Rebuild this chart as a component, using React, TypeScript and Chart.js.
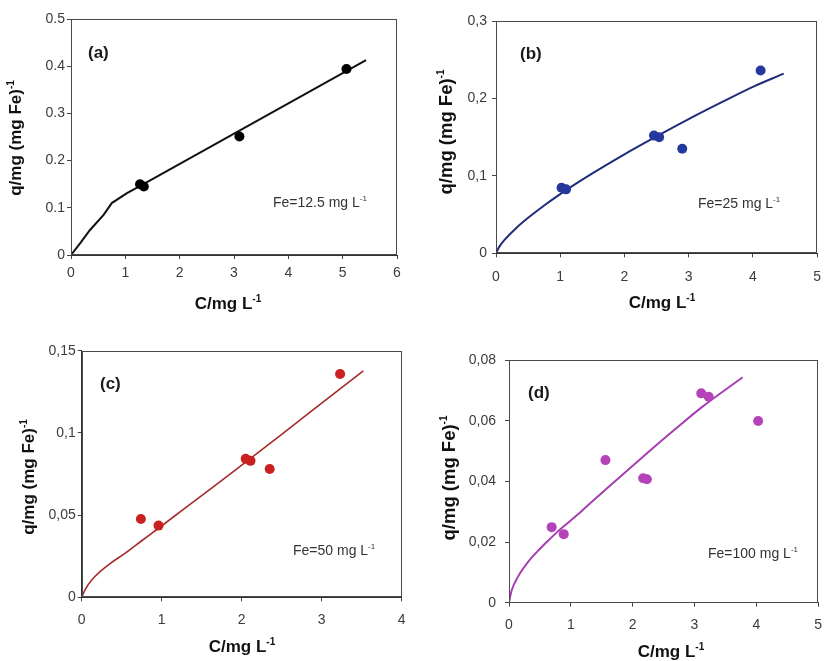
import React, { useEffect, useRef } from 'react';
import { Chart, registerables } from 'chart.js';

Chart.register(...registerables);

const FONT = '"Liberation Sans", Arial, Helvetica, sans-serif';

// ---------- Panel (a): Fe = 12.5 mg/L ----------
const A_C = [1.27, 1.34, 3.1, 5.07];
const A_Q = [0.15, 0.145, 0.251, 0.394];
const A_FIT_C = [0, 0.17, 0.35, 0.6, 0.75, 1.03, 1.3, 5.43];
const A_FIT_Q = [0, 0.025, 0.053, 0.085, 0.11, 0.131, 0.148, 0.413];
const A_X_TICKS = ['0', '1', '2', '3', '4', '5', '6'];
const A_Y_TICKS = ['0', '0.1', '0.2', '0.3', '0.4', '0.5'];

// ---------- Panel (b): Fe = 25 mg/L ----------
const B_C = [1.02, 1.09, 2.46, 2.54, 2.9, 4.12];
const B_Q = [0.0847, 0.0826, 0.152, 0.15, 0.135, 0.236];
const B_FIT_C = [0, 0.05, 0.15, 0.3, 0.5, 0.75, 1.0, 1.5, 2.0, 2.5, 3.0, 3.5, 4.0, 4.48];
const B_FIT_Q = [0, 0.0083, 0.0189, 0.0315, 0.0458, 0.0618, 0.0765, 0.1032, 0.1279, 0.151, 0.1733, 0.1945, 0.215, 0.232];
const B_X_TICKS = ['0', '1', '2', '3', '4', '5'];
const B_Y_TICKS = ['0', '0,1', '0,2', '0,3'];

// ---------- Panel (c): Fe = 50 mg/L ----------
const C_C = [0.74, 0.96, 2.05, 2.11, 2.35, 3.23];
const C_Q = [0.0476, 0.0436, 0.0843, 0.083, 0.078, 0.1358];
const C_FIT_C = [0, 0.04, 0.125, 0.33, 0.54, 0.75, 0.96, 1.5, 2.05, 2.5, 3.0, 3.52];
const C_FIT_Q = [0, 0.0044, 0.0105, 0.0196, 0.0267, 0.0344, 0.042, 0.0619, 0.0822, 0.0991, 0.1181, 0.1378];
const C_X_TICKS = ['0', '1', '2', '3', '4'];
const C_Y_TICKS = ['0', '0,05', '0,1', '0,15'];

// ---------- Panel (d): Fe = 100 mg/L ----------
const D_C = [0.69, 0.885, 1.56, 2.17, 2.23, 3.11, 3.23, 4.03];
const D_Q = [0.0249, 0.0226, 0.047, 0.041, 0.0407, 0.069, 0.0679, 0.0599];
const D_FIT_C = [0, 0.042, 0.146, 0.3, 0.46, 0.61, 0.77, 0.98, 1.19, 1.6, 2.2, 2.7, 3.11, 3.78];
const D_FIT_Q = [0, 0.004, 0.0086, 0.0132, 0.0169, 0.02, 0.0231, 0.0268, 0.0305, 0.038, 0.0487, 0.0574, 0.0643, 0.0743];
const D_X_TICKS = ['0', '1', '2', '3', '4', '5'];
const D_Y_TICKS = ['0', '0,02', '0,04', '0,06', '0,08'];

type Seg = { t: string; sup?: boolean };

interface PanelDef {
  left: number; top: number; width: number; height: number;
  plot: { l: number; t: number; r: number; b: number };
  xMax: number; xStep: number; yMax: number; yStep: number;
  xTicks: string[]; yTicks: string[];
  ptsC: number[]; ptsQ: number[]; fitC: number[]; fitQ: number[];
  color: string; lineColor: string; lineWidth: number; radius: number; tension: number;
  xTickPad: number; yTickPad: number;
  label: string; labelPos: [number, number];
  note: Seg[]; notePos: [number, number];
  xTitle: Seg[]; xTitlePos: [number, number]; xTitleSize: number;
  yTitle: Seg[]; yTitlePos: [number, number]; yTitleSize: number;
}

const X_TITLE: Seg[] = [{ t: 'C/mg L' }, { t: '-1', sup: true }];
const Y_TITLE: Seg[] = [{ t: 'q/mg (mg Fe)' }, { t: '-1', sup: true }];

const PANELS: PanelDef[] = [
  {
    left: 0, top: 0, width: 416, height: 330,
    plot: { l: 71, t: 19, r: 397, b: 255 },
    xMax: 6, xStep: 1, yMax: 0.5, yStep: 0.1, xTicks: A_X_TICKS, yTicks: A_Y_TICKS,
    ptsC: A_C, ptsQ: A_Q, fitC: A_FIT_C, fitQ: A_FIT_Q,
    color: '#000000', lineColor: '#111111', lineWidth: 2, radius: 5, tension: 0,
    xTickPad: 6, yTickPad: 2,
    label: '(a)', labelPos: [88, 52],
    note: [{ t: 'Fe=12.5 mg L' }, { t: '-1', sup: true }], notePos: [273, 202],
    xTitle: X_TITLE, xTitlePos: [228, 303], xTitleSize: 17,
    yTitle: Y_TITLE, yTitlePos: [15, 138], yTitleSize: 17,
  },
  {
    left: 416, top: 0, width: 416, height: 330,
    plot: { l: 80, t: 21, r: 409.3, b: 253.3 },
    xMax: 5, xStep: 1, yMax: 0.3, yStep: 0.1, xTicks: B_X_TICKS, yTicks: B_Y_TICKS,
    ptsC: B_C, ptsQ: B_Q, fitC: B_FIT_C, fitQ: B_FIT_Q,
    color: '#25389c', lineColor: '#1f2c78', lineWidth: 2, radius: 5, tension: 0.3,
    xTickPad: 11, yTickPad: 5,
    label: '(b)', labelPos: [104, 53],
    note: [{ t: 'Fe=25 mg L' }, { t: '-1', sup: true }], notePos: [282, 203],
    xTitle: X_TITLE, xTitlePos: [246, 302], xTitleSize: 17,
    yTitle: Y_TITLE, yTitlePos: [29, 132], yTitleSize: 18.5,
  },
  {
    left: 0, top: 330, width: 416, height: 331,
    plot: { l: 81.7, t: 20.7, r: 401.7, b: 267.3 },
    xMax: 4, xStep: 1, yMax: 0.15, yStep: 0.05, xTicks: C_X_TICKS, yTicks: C_Y_TICKS,
    ptsC: C_C, ptsQ: C_Q, fitC: C_FIT_C, fitQ: C_FIT_Q,
    color: '#c92020', lineColor: '#a52c2a', lineWidth: 1.6, radius: 5, tension: 0.3,
    xTickPad: 10, yTickPad: 2,
    label: '(c)', labelPos: [100, 53],
    note: [{ t: 'Fe=50 mg L' }, { t: '-1', sup: true }], notePos: [293, 220],
    xTitle: X_TITLE, xTitlePos: [242, 315.5], xTitleSize: 17,
    yTitle: Y_TITLE, yTitlePos: [28, 147], yTitleSize: 17,
  },
  {
    left: 416, top: 330, width: 416, height: 331,
    plot: { l: 93, t: 30, r: 413.3, b: 272.7 },
    xMax: 5, xStep: 1, yMax: 0.08, yStep: 0.02, xTicks: D_X_TICKS, yTicks: D_Y_TICKS,
    ptsC: D_C, ptsQ: D_Q, fitC: D_FIT_C, fitQ: D_FIT_Q,
    color: '#b443b9', lineColor: '#a63fb0', lineWidth: 2, radius: 5, tension: 0.3,
    xTickPad: 10, yTickPad: 9,
    label: '(d)', labelPos: [112, 62],
    note: [{ t: 'Fe=100 mg L' }, { t: '-1', sup: true }], notePos: [292, 223],
    xTitle: X_TITLE, xTitlePos: [255, 321], xTitleSize: 17,
    yTitle: Y_TITLE, yTitlePos: [32, 148], yTitleSize: 18.5,
  },
];

function drawRich(
  ctx: CanvasRenderingContext2D, segs: Seg[], x: number, y: number,
  size: number, bold: boolean, color: string, align: 'left' | 'center'
) {
  ctx.save();
  ctx.fillStyle = color;
  ctx.textBaseline = 'alphabetic';
  ctx.textAlign = 'left';
  const w8 = bold ? 'bold ' : '';
  const main = `${w8}${size}px ${FONT}`;
  const small = `${w8}${Math.round(size * 0.56)}px ${FONT}`;
  let total = 0;
  for (const s of segs) {
    ctx.font = s.sup ? small : main;
    total += ctx.measureText(s.t).width;
  }
  let cx = align === 'center' ? x - total / 2 : x;
  const base = y + size * 0.36;
  for (const s of segs) {
    ctx.font = s.sup ? small : main;
    ctx.fillText(s.t, cx, s.sup ? base - size * 0.4 : base);
    cx += ctx.measureText(s.t).width;
  }
  ctx.restore();
}

function Panel({ def }: { def: PanelDef }) {
  const ref = useRef<HTMLCanvasElement | null>(null);
  useEffect(() => {
    if (!ref.current) return;
    const p = def;
    const decor = {
      id: 'decor',
      afterDraw(chart: any) {
        const ctx: CanvasRenderingContext2D = chart.ctx;
        const a = chart.chartArea;
        ctx.save();
        ctx.strokeStyle = '#4a4a4a';
        ctx.lineWidth = 1;
        const l = Math.round(a.left) + 0.5;
        const t = Math.round(a.top) + 0.5;
        const r = Math.round(a.right) - 0.5;
        const b = Math.round(a.bottom) - 0.5;
        ctx.strokeRect(l, t, r - l, b - t);
        ctx.restore();
        drawRich(ctx, [{ t: p.label }], p.labelPos[0], p.labelPos[1], 17, true, '#1a1a1a', 'left');
        drawRich(ctx, p.note, p.notePos[0], p.notePos[1], 14, false, '#333333', 'left');
        drawRich(ctx, p.xTitle, p.xTitlePos[0], p.xTitlePos[1], p.xTitleSize, true, '#111111', 'center');
        ctx.save();
        ctx.translate(p.yTitlePos[0], p.yTitlePos[1]);
        ctx.rotate(-Math.PI / 2);
        drawRich(ctx, p.yTitle, 0, 0, p.yTitleSize, true, '#111111', 'center');
        ctx.restore();
      },
    };
    const chart = new Chart(ref.current, {
      type: 'scatter',
      data: {
        datasets: [
          {
            label: 'data',
            data: p.ptsC.map((c, i) => ({ x: c, y: p.ptsQ[i] })),
            backgroundColor: p.color,
            borderColor: p.color,
            pointRadius: p.radius,
            pointBorderWidth: 0,
            showLine: false,
          },
          {
            label: 'fit',
            data: p.fitC.map((c, i) => ({ x: c, y: p.fitQ[i] })),
            borderColor: p.lineColor,
            backgroundColor: p.lineColor,
            borderWidth: p.lineWidth,
            pointRadius: 0,
            showLine: true,
            tension: p.tension,
            cubicInterpolationMode: p.tension > 0 ? 'monotone' : 'default',
          } as any,
        ],
      },
      options: {
        animation: false,
        responsive: false,
        events: [],
        layout: {
          autoPadding: false,
          padding: { left: 0, top: p.plot.t, right: p.width - p.plot.r, bottom: 0 },
        },
        plugins: { legend: { display: false }, tooltip: { enabled: false } },
        scales: {
          x: {
            type: 'linear', min: 0, max: p.xMax,
            ticks: {
              stepSize: p.xStep, padding: p.xTickPad, color: '#3c3c3c',
              font: { family: FONT, size: 14 }, maxRotation: 0, autoSkip: false,
              callback: (_v: any, i: number) => p.xTicks[i],
            },
            grid: { drawOnChartArea: false, drawTicks: true, tickLength: 4, color: '#444444' },
            border: { display: true, color: '#333333' },
            afterFit: (s: any) => { s.height = p.height - p.plot.b; },
          },
          y: {
            type: 'linear', min: 0, max: p.yMax,
            ticks: {
              stepSize: p.yStep, padding: p.yTickPad, color: '#3c3c3c',
              font: { family: FONT, size: 14 }, autoSkip: false,
              callback: (_v: any, i: number) => p.yTicks[i],
            },
            grid: { drawOnChartArea: false, drawTicks: true, tickLength: 4, color: '#444444' },
            border: { display: true, color: '#333333' },
            afterFit: (s: any) => { s.width = p.plot.l; },
          },
        },
      } as any,
      plugins: [decor],
    });
    return () => chart.destroy();
  }, [def]);
  return (
    <canvas
      ref={ref}
      width={def.width}
      height={def.height}
      style={{ position: 'absolute', left: def.left, top: def.top, width: def.width, height: def.height }}
    />
  );
}

export default function App() {
  return (
    <div style={{ position: 'absolute', left: 0, top: 0, width: 832, height: 661, overflow: 'hidden', background: '#ffffff' }}>
      {PANELS.map((d, i) => (
        <Panel key={i} def={d} />
      ))}
    </div>
  );
}
